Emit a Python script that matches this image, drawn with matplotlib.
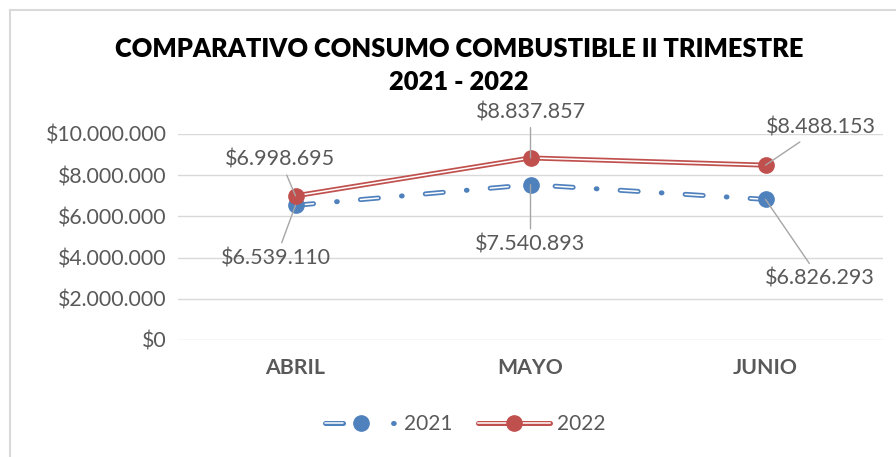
import matplotlib
matplotlib.use('Agg')
import matplotlib.pyplot as plt
from matplotlib.lines import Line2D
from matplotlib.legend_handler import HandlerTuple

# data
meses = ['ABRIL', 'MAYO', 'JUNIO']
consumo_2021 = [6539110, 7540893, 6826293]
consumo_2022 = [6998695, 8837857, 8488153]
yticks = [0, 2000000, 4000000, 6000000, 8000000, 10000000]


def pesos(v):
    return '$' + format(int(v), ',').replace(',', '.')


plt.rcParams['font.family'] = ['Lato', 'DejaVu Sans']
plt.rcParams['lines.scale_dashes'] = False

azul = '#4F81BD'
rojo = '#C0504D'
gris = '#595959'

fig = plt.figure(figsize=(8.96, 4.57), dpi=100)
ax = fig.add_axes([178 / 896, 1 - 340 / 457, 705 / 896, 206 / 457])

x = list(range(len(meses)))

# 2021: doble linea punteada (raya-punto)
ax.plot(x, consumo_2021, color=azul, lw=3.6, ls=(0, (13, 16.7, 0.5, 16.7)),
        dash_capstyle='round', zorder=3)
ax.plot(x, consumo_2021, color='white', lw=1.1, ls=(0, (13, 33.9)),
        dash_capstyle='round', zorder=4)
m21, = ax.plot(x, consumo_2021, 'o', color=azul, ms=11, mec=azul, zorder=5)

# 2022: doble linea solida
l22a, = ax.plot(x, consumo_2022, color=rojo, lw=3.6, solid_capstyle='round', zorder=3)
l22b, = ax.plot(x, consumo_2022, color='white', lw=1.1, zorder=4)
m22, = ax.plot(x, consumo_2022, 'o', color=rojo, ms=11, mec=rojo, zorder=5)

ax.set_xlim(-0.5, 2.5)
ax.set_ylim(0, 10000000)
ax.set_yticks(yticks)
ax.set_yticklabels([pesos(v) for v in yticks])
ax.set_xticks(x)
ax.set_xticklabels(meses, fontweight='bold')
ax.grid(axis='y', color='#D9D9D9', lw=1)
ax.set_axisbelow(True)
for s in ax.spines.values():
    s.set_visible(False)
ax.tick_params(axis='both', length=0, colors=gris)
ax.tick_params(axis='y', labelsize=15.3, pad=8)
ax.tick_params(axis='x', labelsize=15.3, pad=13)

# etiquetas de datos con lineas guia
off_2021 = [(-14, -38), (0, -43), (39, -57)]
off_2022 = [(-11, 26), (0, 33), (40, 27)]
for i in x:
    for vals, off in ((consumo_2021, off_2021), (consumo_2022, off_2022)):
        ax.annotate(pesos(vals[i]), (i, vals[i]), xytext=off[i], textcoords='offset points',
                    ha='center', va='center', fontsize=15.5, color=gris, zorder=6,
                    annotation_clip=False,
                    arrowprops=dict(arrowstyle='-', color='#A6A6A6', lw=1,
                                    shrinkA=2, shrinkB=0))

# titulo
fig.text(0.512, 1 - 49 / 457, 'COMPARATIVO CONSUMO COMBUSTIBLE II TRIMESTRE',
         ha='center', va='center', fontsize=18.4, fontweight='heavy', color='black')
fig.text(0.512, 1 - 82 / 457, '2021 - 2022',
         ha='center', va='center', fontsize=18.4, fontweight='heavy', color='black')
fig.text(0.549, 1 - 3 / 457, 'Gráfico No. 1', ha='center', va='bottom',
         fontsize=12, style='italic', family='Liberation Sans')

# marco
fig.add_artist(Line2D([9.5 / 896, 9.5 / 896], [0, 1 - 10 / 457], color='#D9D9D9', lw=1.5,
                      transform=fig.transFigure))
fig.add_artist(Line2D([9.5 / 896, 1], [1 - 10 / 457, 1 - 10 / 457], color='#D9D9D9', lw=1.5,
                      transform=fig.transFigure))

# leyenda (muestra de 2021 con su propio patron)
p21a = Line2D([], [], color=azul, lw=3.6, ls=(0, (13, 36, 0.5, 20)), dash_capstyle='round')
p21b = Line2D([], [], color='white', lw=1.1, ls=(0, (13, 56.5)), dash_capstyle='round')
leg = fig.legend([(p21a, p21b, m21), (l22a, l22b, m22)], ['2021', '2022'],
                 handler_map={tuple: HandlerTuple(ndivide=1)},
                 loc='center', bbox_to_anchor=(0.519, 1 - 424 / 457), ncol=2,
                 frameon=False, fontsize=15, handlelength=3.5, columnspacing=1.2,
                 handletextpad=0.3)
for t in leg.get_texts():
    t.set_color(gris)

fig.savefig('out.png', dpi=100)
